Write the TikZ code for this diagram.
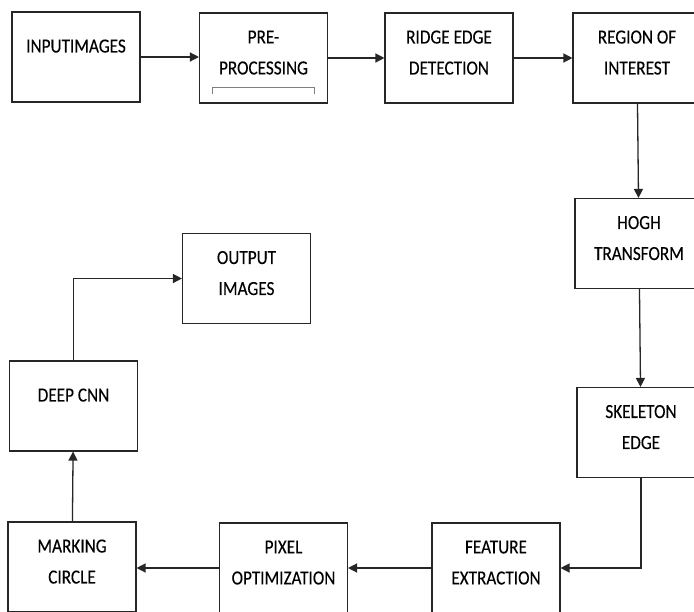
\documentclass[tikz,border=0pt]{standalone}
\usepackage{fontspec}
\setmainfont{Carlito}[FakeStretch=0.86,FakeBold=0.2]
\usetikzlibrary{arrows.meta,positioning}

\begin{document}
\begin{tikzpicture}[x=1pt,y=-1pt,
    blk/.style={draw=black!85,line width=1.1pt,minimum width=128pt,minimum height=90pt,
      align=center,inner sep=0pt,font=\fontsize{20}{31}\selectfont},
    oneln/.style={text depth=22pt},
    twoln/.style={text depth=11pt},
    flow/.style={draw=black!85,line width=1.3pt,-{Triangle[length=9pt,width=9pt]}}]
  \useasboundingbox (0,0) rectangle (694,611);
  % top row
  \node[blk,oneln] (inp) at (76,57) {INPUTIMAGES};
  \node[blk,twoln] (pre) at (263.5,58) {PRE-\\PROCESSING};
  \node[blk,twoln] (rid) at (449,58) {RIDGE EDGE\\DETECTION};
  \node[blk,twoln] (roi) at (637,58) {REGION OF\\INTEREST};
  \draw[gray,line width=0.8pt] (212,94) -- (212,87) -- (314,87) -- (314,94);
  % right column
  \node[blk,twoln] (hog) at (639,243.5) {HOGH\\TRANSFORM};
  \node[blk,twoln] (ske) at (641,432.5) {SKELETON\\EDGE};
  % bottom row
  \node[blk,twoln] (fea) at (496,568) {FEATURE\\EXTRACTION};
  \node[blk,twoln] (pix) at (283.5,568) {PIXEL\\OPTIMIZATION};
  \node[blk,twoln] (mar) at (72,567) {MARKING\\CIRCLE};
  % left column
  \node[blk,oneln] (cnn) at (73.5,406) {DEEP CNN};
  \node[blk,twoln] (out) at (246.5,278.5) {OUTPUT\\IMAGES};
  % connectors
  \draw[flow] (inp.east) -- (inp.east -| pre.west);
  \draw[flow] (pre) -- (rid);
  \draw[flow] (rid) -- (roi);
  \draw[flow] (roi) -- (hog);
  \draw[flow] (hog) -- (ske);
  \draw[flow] (ske.south) |- (fea.east);
  \draw[flow] (fea) -- (pix);
  \draw[flow] (pix.west) -- (pix.west -| mar.east);
  \draw[flow] (mar) -- (cnn);
  \draw[flow] (cnn.north) |- (out.west);
\end{tikzpicture}
\end{document}
